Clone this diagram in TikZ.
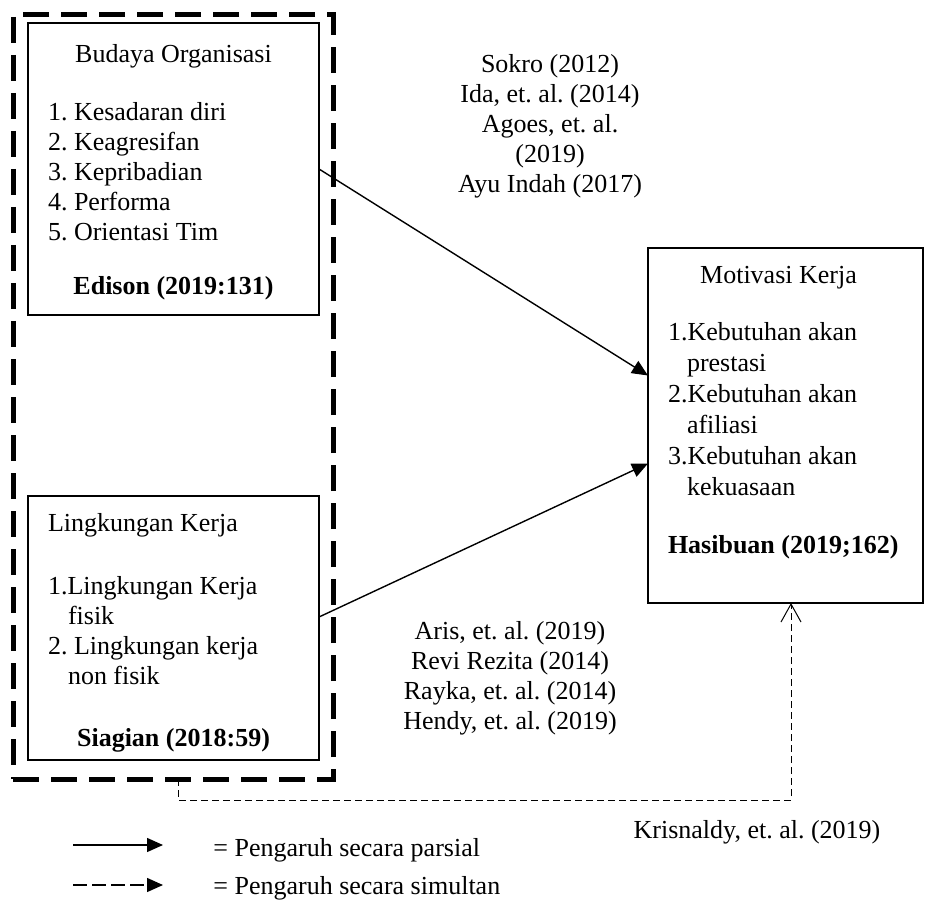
\documentclass[tikz,border=0pt]{standalone}
\usepackage{fontspec}
\setmainfont{Liberation Serif}
\usetikzlibrary{arrows.meta}
\newcommand{\txtsize}{\fontsize{13}{15}\selectfont}
\frenchspacing

\begin{document}
\begin{tikzpicture}[x=0.5pt, y=-0.5pt,
  every node/.style={font=\txtsize},
  varbox/.style={draw, line width=0.6pt, rectangle, inner xsep=10pt, inner ysep=0pt, outer sep=0pt, anchor=north west},
  grpbox/.style={draw, line width=2.5pt, dash pattern=on 13pt off 6pt, rectangle, outer sep=0pt, anchor=north west},
  parsial/.style={line width=0.7pt, -{Triangle[length=8pt,width=7pt]}},
  simultan/.style={line width=0.5pt, dash pattern=on 3.5pt off 2pt, -{Straight Barb[length=9pt,width=10pt]}},
  legsim/.style={line width=0.7pt, dash pattern=on 7pt off 2.5pt, -{Triangle[length=8pt,width=7pt]}}]
  \useasboundingbox (0,0) rectangle (925,903);
  % Group of independent variables
  \node[grpbox, minimum width=160pt, minimum height=382pt] (grp) at (13,15) {};
  % Budaya organisasi
  \node[varbox] (budaya) at (28,23) {\begin{minipage}[c][146pt][t]{125.5pt}
    {\centering\rule{0pt}{20pt}Budaya Organisasi\par}
    \vspace{14pt}
    1. Kesadaran diri\par
    2. Keagresifan\par
    3. Kepribadian\par
    4. Performa\par
    5. Orientasi Tim\par
    \vspace{12pt}
    {\centering\textbf{Edison (2019:131)}\par}
  \end{minipage}};
  % Lingkungan kerja
  \node[varbox] (lingkungan) at (28,496) {\begin{minipage}[c][132pt][t]{125.5pt}
    \rule{0pt}{17.5pt}Lingkungan Kerja\par
    \vspace{16.5pt}
    1.Lingkungan Kerja\par
    \hspace*{10pt}fisik\par
    2. Lingkungan kerja\par
    \hspace*{10pt}non fisik\par
    \vspace{16pt}
    {\centering\textbf{Siagian (2018:59)}\par}
  \end{minipage}};
  % Motivasi kerja
  \node[varbox] (motivasi) at (648,248) {\begin{minipage}[c][177.5pt][t]{117.5pt}
    \fontsize{13}{15.5}\selectfont
    {\centering\rule{0pt}{17.5pt}Motivasi Kerja\hspace*{7pt}\par}
    \vspace{13pt}
    1.Kebutuhan akan\par
    \hspace*{9.5pt}prestasi\par
    2.Kebutuhan akan\par
    \hspace*{9.5pt}afiliasi\par
    3.Kebutuhan akan\par
    \hspace*{9.5pt}kekuasaan\par
    \vspace{13.5pt}
    \textbf{Hasibuan (2019;162)}\par
  \end{minipage}};
  % Partial effects
  \draw[parsial] (budaya.east) -- ([yshift=25pt]motivasi.west);
  \draw[parsial] ([yshift=5.5pt]lingkungan.east) -- ([yshift=-19pt]motivasi.west);
  \node[align=center] (refbudaya) at (550,126) {Sokro (2012)\\Ida, et. al. (2014)\\Agoes, et. al.\\(2019)\\Ayu Indah (2017)};
  \node[align=center] (reflingkungan) at (510,678) {Aris, et. al. (2019)\\Revi Rezita (2014)\\Rayka, et. al. (2014)\\Hendy, et. al. (2019)};
  % Simultaneous effect
  \draw[simultan] ([xshift=2.5pt]grp.south) -- ++(0,21) -| ([xshift=2.75pt]motivasi.south);
  \node (refsimultan) at (757,832) {Krisnaldy, et. al. (2019)};
  % Legend
  \coordinate (legp1) at (73,845);
  \coordinate (legp2) at (163,845);
  \draw[parsial] (legp1) -- (legp2);
  \node[anchor=west, inner xsep=0pt] (legparsial) at (213,850) {= Pengaruh secara parsial};
  \coordinate (legs1) at (73,885);
  \coordinate (legs2) at (163,885);
  \draw[legsim] (legs1) -- (legs2);
  \node[anchor=west, inner xsep=0pt] (legsimultan) at (213,888) {= Pengaruh secara simultan};
\end{tikzpicture}
\end{document}
